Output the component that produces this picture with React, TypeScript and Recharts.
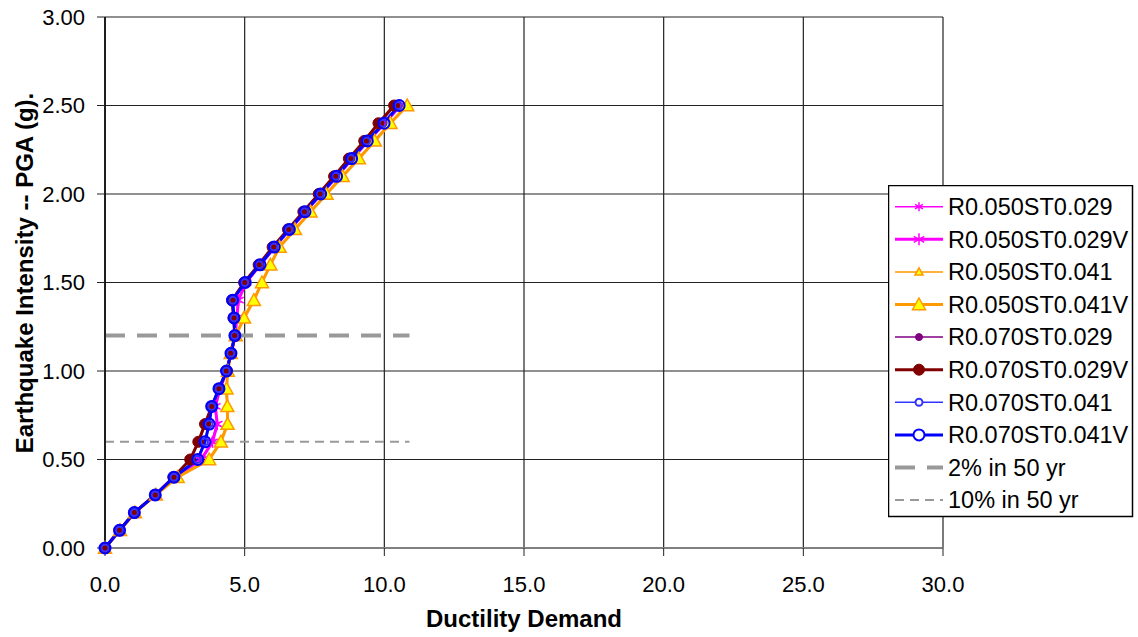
import { CartesianGrid, Legend, Line, LineChart, XAxis, YAxis } from "recharts";

// earthquake intensity (PGA, g) at each analysis step
const PGA = [
  0.0, 0.1, 0.2, 0.3, 0.4, 0.5, 0.6, 0.7, 0.8, 0.9, 1.0, 1.1, 1.2, 1.3, 1.4, 1.5,
  1.6, 1.7, 1.8, 1.9, 2.0, 2.1, 2.2, 2.3, 2.4, 2.5,
];

// ductility demand per model
const R050_ST029 = [
  0, 0.53, 1.06, 1.8, 2.5, 3.42, 3.82, 4.0, 3.93, 4.1, 4.35, 4.51, 4.65, 4.7, 4.75,
  5.04, 5.55, 6.07, 6.61, 7.17, 7.73, 8.3, 8.85, 9.41, 10.0, 10.56,
];
const R050_ST029V = [
  0, 0.53, 1.06, 1.8, 2.5, 3.45, 3.85, 4.02, 3.95, 4.12, 4.36, 4.52, 4.66, 4.72, 4.78,
  5.05, 5.56, 6.08, 6.62, 7.18, 7.74, 8.31, 8.86, 9.42, 10.02, 10.58,
];
const R050_ST041 = [
  0, 0.54, 1.07, 1.82, 2.58, 3.7, 4.12, 4.37, 4.37, 4.34, 4.39, 4.5, 4.67, 4.96, 5.3,
  5.6, 5.9, 6.23, 6.78, 7.34, 7.9, 8.48, 9.06, 9.63, 10.18, 10.78,
];
const R050_ST041V = [
  0, 0.54, 1.07, 1.82, 2.6, 3.73, 4.15, 4.39, 4.38, 4.35, 4.4, 4.5, 4.68, 4.98, 5.33,
  5.62, 5.92, 6.25, 6.8, 7.36, 7.93, 8.51, 9.09, 9.66, 10.22, 10.82,
];
const R070_ST029 = [
  0, 0.52, 1.05, 1.8, 2.45, 3.07, 3.36, 3.6, 3.82, 4.08, 4.35, 4.5, 4.64, 4.6, 4.56,
  4.99, 5.52, 6.02, 6.56, 7.12, 7.67, 8.22, 8.76, 9.3, 9.83, 10.4,
];
const R070_ST029V = [
  0, 0.52, 1.05, 1.8, 2.45, 3.05, 3.34, 3.58, 3.82, 4.08, 4.35, 4.51, 4.65, 4.6, 4.55,
  4.98, 5.5, 6.0, 6.55, 7.1, 7.65, 8.2, 8.73, 9.28, 9.79, 10.35,
];
const R070_ST041 = [
  0, 0.52, 1.05, 1.8, 2.47, 3.3, 3.56, 3.72, 3.82, 4.08, 4.34, 4.5, 4.64, 4.62, 4.58,
  5.0, 5.52, 6.04, 6.58, 7.14, 7.7, 8.26, 8.8, 9.36, 9.95, 10.5,
];
const R070_ST041V = [
  0, 0.52, 1.05, 1.8, 2.47, 3.32, 3.58, 3.73, 3.82, 4.08, 4.35, 4.51, 4.65, 4.62, 4.57,
  5.02, 5.55, 6.06, 6.6, 7.16, 7.72, 8.29, 8.83, 9.39, 9.99, 10.53,
];

// hazard levels (PGA) and the ductility span they are drawn across
const HAZARD_2PCT = 1.2;
const HAZARD_10PCT = 0.6;
const HAZARD_SPAN = [0, 10.9];

const X_TICKS = [0, 5, 10, 15, 20, 25, 30];
const Y_TICKS = [0, 0.5, 1.0, 1.5, 2.0, 2.5, 3.0];

const FONT = "'Liberation Sans', Arial, Helvetica, sans-serif";

type Shape = "star" | "triangle" | "dot" | "ring";

type SeriesDef = {
  name: string;
  values: number[];
  color: string;
  width: number;
  shape: Shape;
  r: number;
  fill: string;
};

const SERIES: SeriesDef[] = [
  { name: "R0.050ST0.029", values: R050_ST029, color: "#FF00FF", width: 1.5, shape: "star", r: 4.5, fill: "none" },
  { name: "R0.050ST0.029V", values: R050_ST029V, color: "#FF00FF", width: 3, shape: "star", r: 6, fill: "none" },
  { name: "R0.050ST0.041", values: R050_ST041, color: "#FF9900", width: 1.5, shape: "triangle", r: 4, fill: "#FFFF00" },
  { name: "R0.050ST0.041V", values: R050_ST041V, color: "#FF9900", width: 3, shape: "triangle", r: 6.5, fill: "#FFFF00" },
  { name: "R0.070ST0.029", values: R070_ST029, color: "#800080", width: 1.5, shape: "dot", r: 3.5, fill: "#800080" },
  { name: "R0.070ST0.029V", values: R070_ST029V, color: "#800000", width: 3, shape: "dot", r: 5.5, fill: "#800000" },
  { name: "R0.070ST0.041", values: R070_ST041, color: "#3333FF", width: 1.5, shape: "ring", r: 3.5, fill: "none" },
  { name: "R0.070ST0.041V", values: R070_ST041V, color: "#0000FF", width: 3, shape: "ring", r: 5.5, fill: "none" },
];

const HAZARDS = [
  { name: "2% in 50 yr", level: HAZARD_2PCT, width: 4, dash: "20 12" },
  { name: "10% in 50 yr", level: HAZARD_10PCT, width: 2, dash: "9 6" },
];

function Marker({
  cx,
  cy,
  shape,
  r,
  stroke,
  fill,
}: {
  cx: number;
  cy: number;
  shape: Shape;
  r: number;
  stroke: string;
  fill: string;
}) {
  if (cx == null || cy == null) return null;
  if (shape === "star") {
    const dx = r * 0.87;
    const dy = r * 0.5;
    return (
      <g stroke={stroke} strokeWidth={1.5}>
        <line x1={cx} y1={cy - r} x2={cx} y2={cy + r} />
        <line x1={cx - dx} y1={cy - dy} x2={cx + dx} y2={cy + dy} />
        <line x1={cx - dx} y1={cy + dy} x2={cx + dx} y2={cy - dy} />
      </g>
    );
  }
  if (shape === "triangle") {
    const pts = `${cx},${cy - r} ${cx + r},${cy + r * 0.8} ${cx - r},${cy + r * 0.8}`;
    return <polygon points={pts} fill={fill} stroke={stroke} strokeWidth={1.5} />;
  }
  if (shape === "dot") {
    return <circle cx={cx} cy={cy} r={r} fill={fill} stroke={stroke} strokeWidth={1} />;
  }
  return <circle cx={cx} cy={cy} r={r} fill={fill} stroke={stroke} strokeWidth={2} />;
}

function LegendBox() {
  const rowH = 32.6;
  const first = 21.7;
  return (
    <svg width={246} height={333} style={{ display: "block", fontFamily: FONT }}>
      <rect x={0.5} y={0.5} width={244} height={331} fill="#fff" stroke="#000" strokeWidth={1.5} />
      {SERIES.map((s, i) => {
        const y = first + i * rowH;
        return (
          <g key={s.name}>
            <line x1={7} y1={y} x2={55} y2={y} stroke={s.color} strokeWidth={s.width} />
            <Marker cx={31} cy={y} shape={s.shape} r={s.r} stroke={s.color} fill={s.fill === "none" ? "#fff" : s.fill} />
            <text x={60} y={y + 8.2} fontSize={23.5} fill="#000">
              {s.name}
            </text>
          </g>
        );
      })}
      {HAZARDS.map((h, j) => {
        const y = first + (SERIES.length + j) * rowH;
        return (
          <g key={h.name}>
            <line x1={7} y1={y} x2={55} y2={y} stroke="#999" strokeWidth={h.width} strokeDasharray={h.dash} />
            <text x={60} y={y + 8.2} fontSize={23.5} fill="#000">
              {h.name}
            </text>
          </g>
        );
      })}
    </svg>
  );
}

export default function App() {
  const seriesData = SERIES.map((s) => PGA.map((y, i) => ({ x: s.values[i], y })));

  return (
    <div style={{ position: "absolute", left: 0, top: 0, width: 1138, height: 637, background: "#fff" }}>
      <LineChart
        width={1138}
        height={637}
        margin={{ top: 17, right: 195, bottom: 29, left: 5 }}
        style={{ fontFamily: FONT }}
      >
        <CartesianGrid stroke="#222" strokeWidth={1.2} />
        <XAxis
          type="number"
          dataKey="x"
          domain={[0, 30]}
          ticks={X_TICKS}
          tickFormatter={(v: number) => v.toFixed(1)}
          height={60}
          tickSize={8}
          tickMargin={20}
          axisLine={{ stroke: "#808080", strokeWidth: 2 }}
          tickLine={{ stroke: "#222" }}
          tick={{ fontSize: 22, fill: "#000", fontFamily: FONT }}
          label={{
            content: () => (
              <text x={524} y={627} textAnchor="middle" fontSize={24} fontWeight={700} fill="#000" fontFamily={FONT}>
                Ductility Demand
              </text>
            ),
          }}
        />
        <YAxis
          type="number"
          dataKey="y"
          domain={[0, 3]}
          ticks={Y_TICKS}
          tickFormatter={(v: number) => v.toFixed(2)}
          width={100}
          tickSize={8}
          tickMargin={12}
          axisLine={{ stroke: "#000", strokeWidth: 1.5 }}
          tickLine={{ stroke: "#222" }}
          tick={{ fontSize: 22, fill: "#000", fontFamily: FONT }}
          label={{
            content: () => (
              <text
                x={33}
                y={273}
                transform="rotate(-90 33 273)"
                textAnchor="middle"
                fontSize={24}
                fontWeight={700}
                fill="#000"
                fontFamily={FONT}
              >
                Earthquake Intensity -- PGA (g).
              </text>
            ),
          }}
        />
        {HAZARDS.map((h) => (
          <Line
            key={h.name}
            data={HAZARD_SPAN.map((x) => ({ x, y: h.level }))}
            dataKey="y"
            type="linear"
            stroke="#999"
            strokeWidth={h.width}
            strokeDasharray={h.dash}
            dot={false}
            activeDot={false}
            isAnimationActive={false}
          />
        ))}
        {SERIES.map((s, si) => (
          <Line
            key={s.name}
            name={s.name}
            data={seriesData[si]}
            dataKey="y"
            type="linear"
            stroke={s.color}
            strokeWidth={s.width}
            activeDot={false}
            isAnimationActive={false}
            dot={(p: any) => (
              <Marker
                key={`${s.name}-${p.index}`}
                cx={p.cx}
                cy={p.cy}
                shape={s.shape}
                r={s.r}
                stroke={s.color}
                fill={s.fill}
              />
            )}
          />
        ))}
        <Legend
          layout="horizontal"
          verticalAlign="middle"
          align="center"
          content={() => <LegendBox />}
          wrapperStyle={{ left: 888, top: 185, width: 246, height: 333 }}
        />
      </LineChart>
    </div>
  );
}
